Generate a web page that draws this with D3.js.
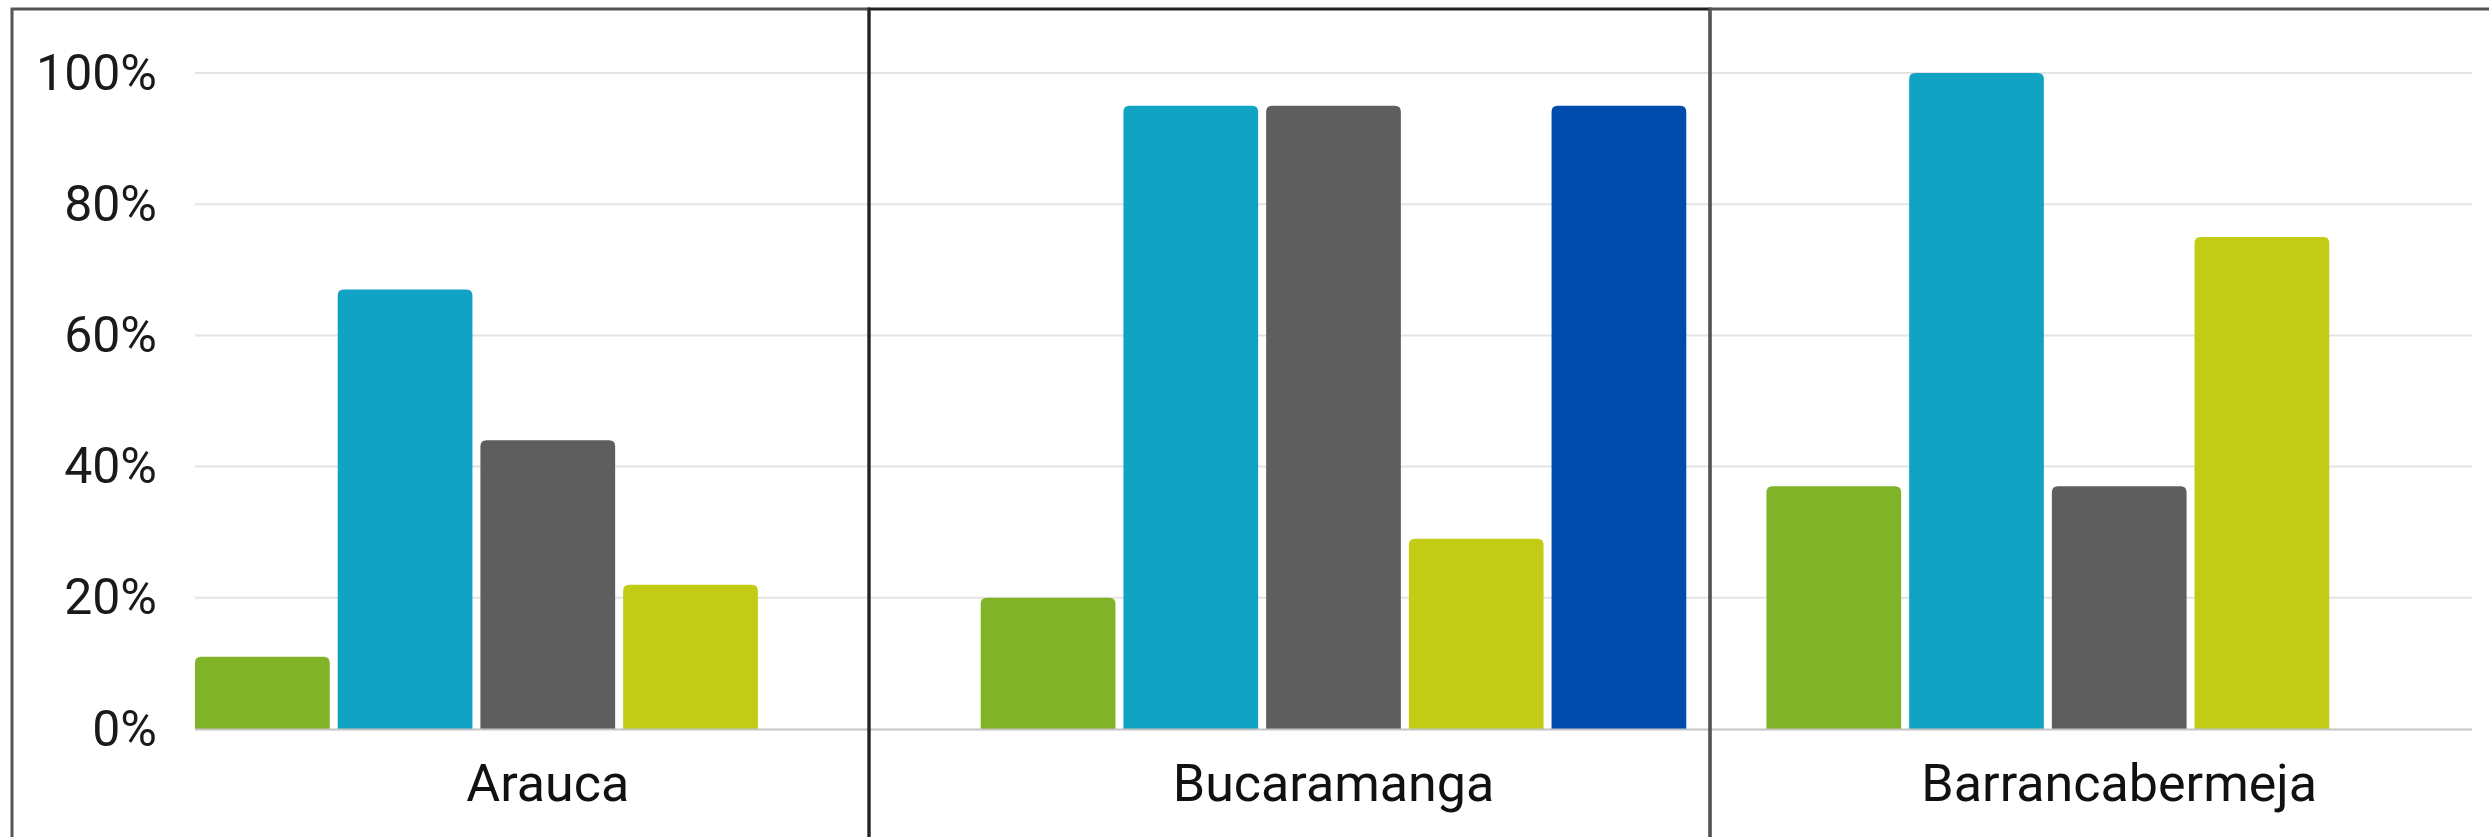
<!DOCTYPE html>
<html lang="es">
<head>
    <meta charset="UTF-8">
    <title>Ciudades</title>
    <script src="https://cdnjs.cloudflare.com/ajax/libs/d3/7.8.5/d3.min.js"></script>
    <style>
        body { margin: 0; background: #fff; }
        svg { display: block; font-family: Roboto, "Noto Sans", sans-serif; }
    </style>
</head>
<body>
    <div id="chart"></div>
    <script>
        // Data
        const cities = ['Arauca', 'Bucaramanga', 'Barrancabermeja'];
        const series = ['Serie 1', 'Serie 2', 'Serie 3', 'Serie 4', 'Serie 5'];
        const colors = ['#80b327', '#11a3c3', '#5e5e5e', '#c2cc15', '#004bac'];
        const values = [
            [11, 67, 44, 22, null],
            [20, 95, 95, 29, 95],
            [37, 100, 37, 75, null]
        ];
        const yTicks = [0, 20, 40, 60, 80, 100];

        const width = 2489, height = 837;
        const margin = { top: 73, right: 17, bottom: 108, left: 195 };

        const svg = d3.select('#chart').append('svg')
            .attr('width', width)
            .attr('height', height);

        const x0 = d3.scaleBand()
            .domain(cities)
            .range([margin.left, width - margin.right])
            .paddingInner(0.102)
            .paddingOuter(0);

        const x1 = d3.scaleBand()
            .domain(series)
            .range([0, x0.bandwidth()])
            .paddingInner(0.056)
            .paddingOuter(0);

        const y = d3.scaleLinear()
            .domain([0, 100])
            .range([height - margin.bottom, margin.top]);

        // Gridlines
        svg.append('g')
            .selectAll('line')
            .data(yTicks.filter(d => d > 0))
            .enter().append('line')
            .attr('x1', margin.left)
            .attr('x2', width - margin.right)
            .attr('y1', d => y(d))
            .attr('y2', d => y(d))
            .attr('stroke', '#e4e4e4')
            .attr('stroke-width', 2);

        // Y axis labels
        const yAxis = svg.append('g')
            .attr('transform', `translate(${margin.left - 38},0)`)
            .call(d3.axisLeft(y).tickValues(yTicks).tickFormat(d => d + '%').tickSize(0));
        yAxis.select('.domain').remove();
        yAxis.selectAll('text')
            .attr('x', 0)
            .attr('font-size', 50)
            .attr('font-family', 'Roboto, sans-serif')
            .attr('fill', '#1a1a1a');

        // Bars with rounded top corners
        function topRounded(x, yTop, w, h, r) {
            r = Math.min(r, h, w / 2);
            return `M${x},${yTop + h}V${yTop + r}Q${x},${yTop} ${x + r},${yTop}` +
                `H${x + w - r}Q${x + w},${yTop} ${x + w},${yTop + r}V${yTop + h}Z`;
        }

        const groups = svg.append('g')
            .selectAll('g')
            .data(cities)
            .enter().append('g')
            .attr('transform', d => `translate(${x0(d)},0)`);

        groups.selectAll('path')
            .data((d, i) => values[i].map((v, j) => ({ key: series[j], value: v, color: colors[j] }))
                .filter(e => e.value !== null))
            .enter().append('path')
            .attr('d', d => topRounded(x1(d.key), y(d.value), x1.bandwidth(), y(0) - y(d.value), 6))
            .attr('fill', d => d.color);

        // Baseline
        svg.append('line')
            .attr('x1', margin.left)
            .attr('x2', width - margin.right)
            .attr('y1', y(0) + 0.5)
            .attr('y2', y(0) + 0.5)
            .attr('stroke', '#c4c4c4')
            .attr('stroke-width', 2);

        // Category labels
        const xAxis = svg.append('g')
            .attr('transform', `translate(0,${y(0)})`)
            .call(d3.axisBottom(x0).tickSize(0));
        xAxis.select('.domain').remove();
        xAxis.selectAll('text')
            .attr('y', 0)
            .attr('dy', 72)
            .attr('font-size', 52)
            .attr('font-family', 'Roboto, sans-serif')
            .attr('fill', '#111');

        // Panel frames
        const frames = [
            { x: 12, w: 857, c: '#555' },
            { x: 869, w: 841, c: '#222' },
            { x: 1710, w: 800, c: '#555' }
        ];
        svg.append('g')
            .selectAll('rect')
            .data(frames)
            .enter().append('rect')
            .attr('x', d => d.x)
            .attr('y', 9)
            .attr('width', d => d.w)
            .attr('height', height + 20)
            .attr('fill', 'none')
            .attr('stroke', d => d.c)
            .attr('stroke-width', 3);
    </script>
</body>
</html>
